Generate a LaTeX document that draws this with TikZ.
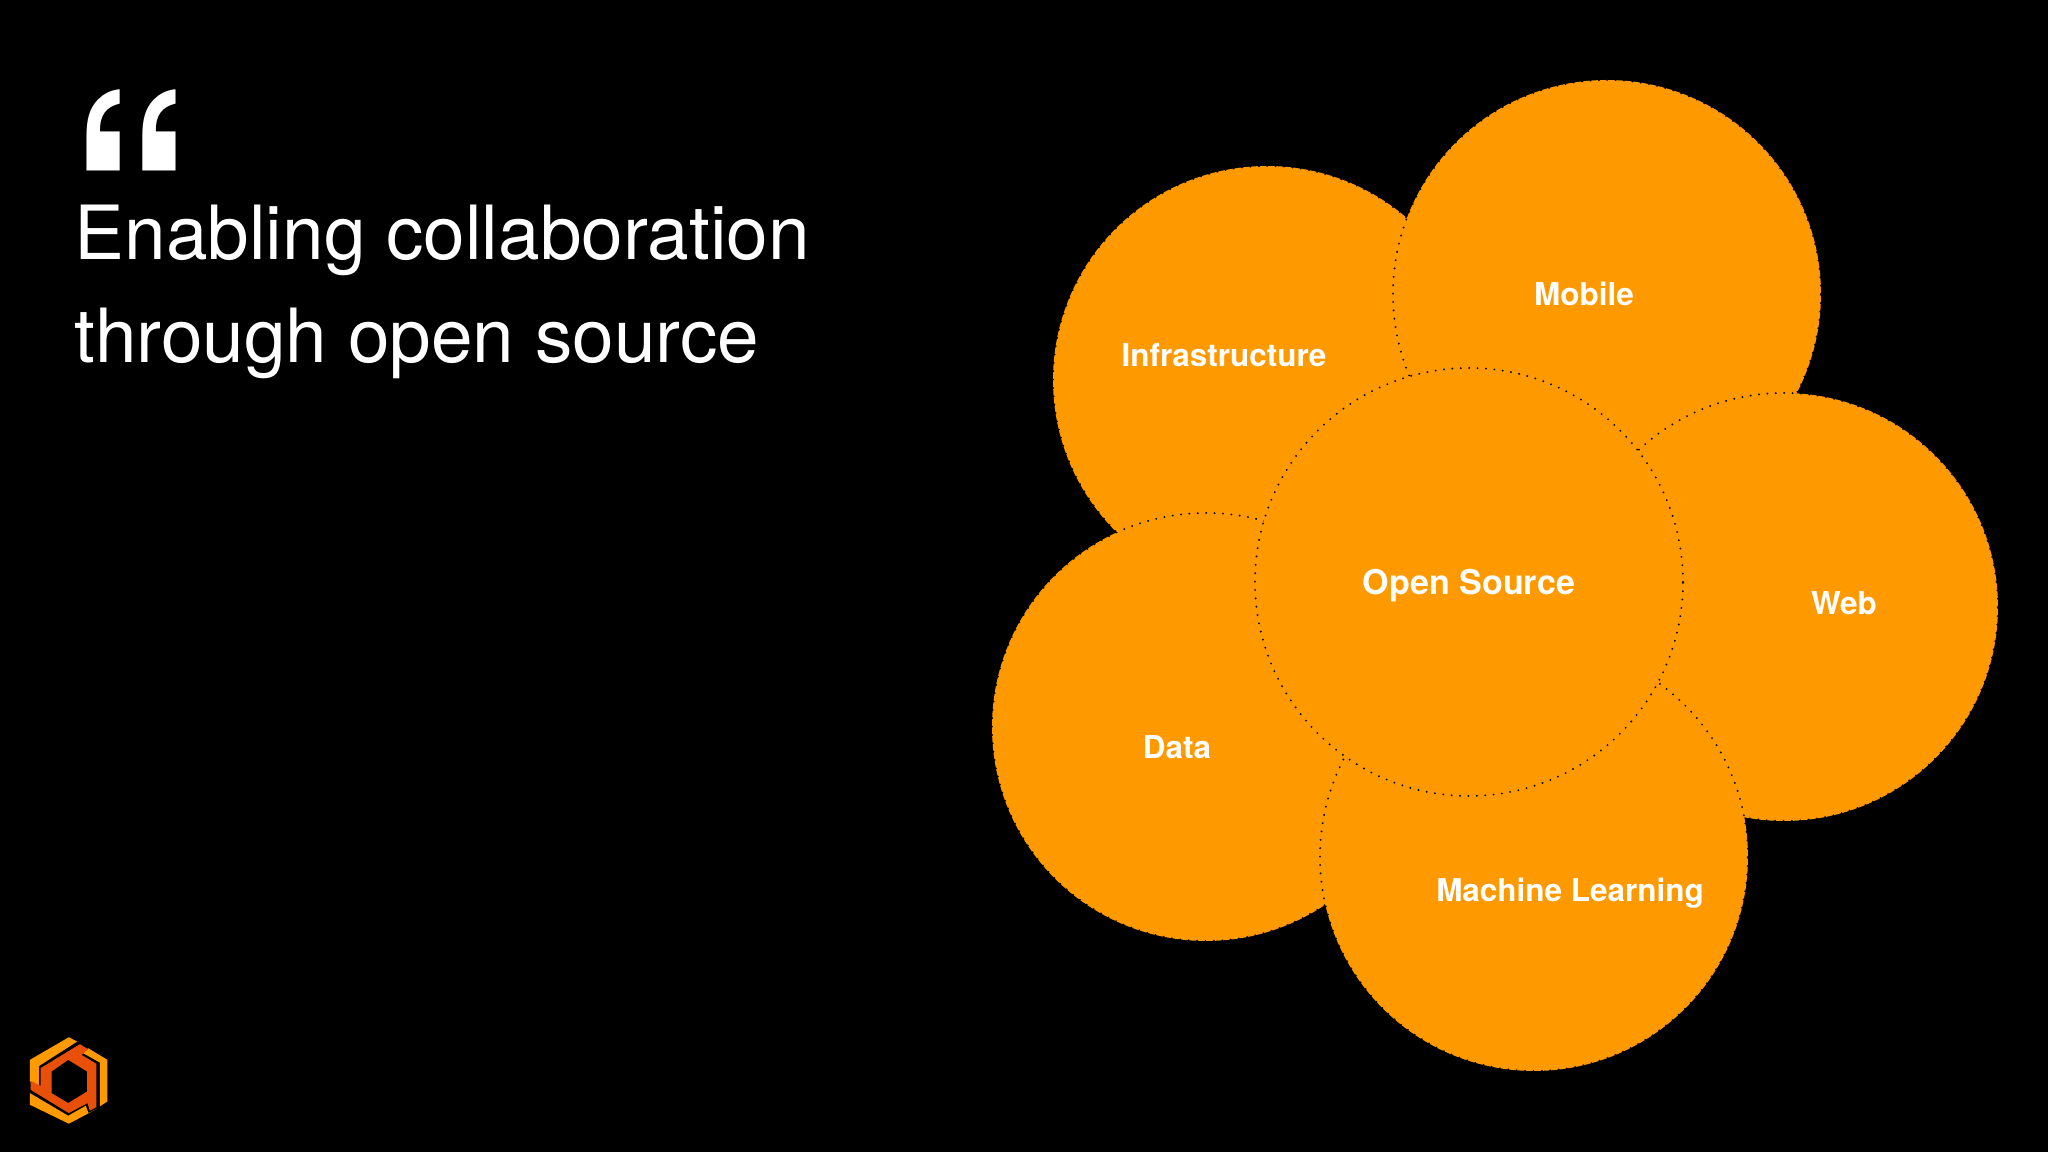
\documentclass[tikz,border=0pt]{standalone}
\usepackage{fontspec}
\setmainfont{TeX Gyre Heros}
\usetikzlibrary{positioning}
\definecolor{petalorange}{RGB}{255,153,0}
\definecolor{logored}{RGB}{232,80,10}
\tikzset{
  petal/.style={fill=petalorange,draw=black,line width=0.6pt,line cap=round,dash pattern=on 0pt off 0.84mm},
  petallabel/.style={text=white,font=\bfseries\fontsize{8.95}{11}\selectfont,inner sep=0pt},
  headline/.style={text=white,anchor=base west,inner sep=0pt,font=\fontsize{21.27}{25}\selectfont},
}
\begin{document}
\begin{tikzpicture}
  \fill[black] (0,0) rectangle (20.48,11.52);
  \useasboundingbox (0,0) rectangle (20.48,11.52);
  % petals, back to front
  \path[petal] (12.67,7.72) circle (2.14);
  \path[petal] (16.07,8.58) circle (2.14);
  \path[petal] (17.84,5.45) circle (2.14);
  \path[petal] (12.06,4.25) circle (2.14);
  \path[petal] (15.34,2.95) circle (2.14);
  \path[petal] (14.69,5.70) circle (2.14);
  \node[petallabel] (infra) at (12.24,7.97) {Infrastructure};
  \node[petallabel] (mobile) at (15.84,8.58) {Mobile};
  \node[petallabel] (web) at (18.44,5.49) {Web};
  \node[petallabel] (data) at (11.77,4.05) {Data};
  \node[petallabel] (ml) at (15.70,2.59) {Machine Learning};
  \node[petallabel,font=\bfseries\fontsize{9.7}{12}\selectfont] (os) at (14.69,5.66) {Open Source};
  % quote
  \node[headline,font=\bfseries\fontsize{70}{70}\selectfont] (mark) at (0.69,8.34) {\scalebox{1}[1.27]{“}};
  \node[headline] (line1) at (0.74,8.92) {Enabling collaboration};
  \node[headline] (line2) at (0.74,7.89) {through open source};
  % logo
  \begin{scope}[shift={(0,11.52-10)},x=0.00333cm,y=-0.00333cm]
    \fill[petalorange] (232,125) -- (207,112) -- (90,180) -- (90,245) -- (118,258) -- (118,198) -- cycle;
    \fill[petalorange] (265,145) -- (323,180) -- (323,305) -- (300,320) -- (300,188) -- (250,160) -- cycle;
    \fill[petalorange] (90,280) -- (205,348) -- (258,318) -- (266,340) -- (292,327) -- (207,372) -- (90,315) -- cycle;
    \fill[logored,even odd rule] (240,133) -- (265,148) -- (245,165) -- (290,192) -- (290,322) -- (270,333) -- (263,310) -- (207,340) -- (92,270) -- (92,243) -- (122,258) -- (122,205) -- cycle
      (205,180) -- (262,215) -- (262,275) -- (205,310) -- (155,280) -- (155,215) -- cycle;
  \end{scope}
\end{tikzpicture}
\end{document}
